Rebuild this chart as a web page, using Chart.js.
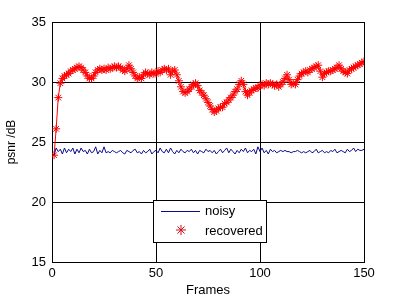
<!DOCTYPE html>
<html>
<head>
<meta charset="utf-8">
<script src="https://cdn.jsdelivr.net/npm/chart.js@4"></script>
<style>
  html, body { margin: 0; padding: 0; background: #fff; }
  #wrap { width: 401px; height: 300px; }
</style>
</head>
<body>
<div id="wrap"><canvas id="psnrChart" width="401" height="300"></canvas></div>
<script>
// Frames 1..150
const frames = Array.from({ length: 150 }, (_, i) => i + 1);

// PSNR of the noisy frames (dB)
const noisy = [
  23.9, 24.5, 24.2, 24.4, 24.0, 24.5, 24.1, 24.4, 24.2, 24.5, 24.0, 24.4, 24.1, 24.5, 24.2,
  24.3, 24.0, 24.4, 24.1, 24.2, 24.6, 24.0, 24.3, 24.1, 24.6, 24.1, 24.2, 24.1, 24.3, 24.2,
  24.1, 24.2, 24.3, 24.1, 24.0, 24.3, 24.2, 24.1, 24.3, 24.4, 24.1, 24.2, 24.0, 24.3, 24.1,
  24.2, 24.4, 24.0, 24.2, 24.3, 24.1, 24.5, 24.2, 24.1, 24.4, 24.1, 24.5, 24.2, 24.0, 24.3,
  24.1, 24.4, 24.2, 24.1, 24.3, 24.2, 24.4, 24.1, 24.3, 24.0, 24.3, 24.2, 24.1, 24.4, 24.2,
  24.3, 24.1, 24.3, 24.0, 24.2, 24.4, 24.1, 24.3, 24.5, 24.1, 24.4, 24.2, 24.0, 24.3, 24.1,
  24.4, 24.2, 24.5, 24.1, 24.3, 24.2, 24.4, 24.0, 24.6, 24.2, 24.5, 24.1, 24.3, 24.0, 24.4,
  24.2, 24.3, 24.1, 24.2, 24.3, 24.2, 24.3, 24.2, 24.2, 24.1, 24.2, 24.2, 24.3, 24.2, 24.1,
  24.2, 24.1, 24.2, 24.3, 24.1, 24.2, 24.4, 24.1, 24.2, 24.3, 24.1, 24.2, 24.1, 24.3, 24.2,
  24.4, 24.1, 24.2, 24.3, 24.2, 24.1, 24.4, 24.2, 24.3, 24.5, 24.2, 24.4, 24.3, 24.3, 24.4
];

// PSNR of the recovered frames (dB)
const recovered = [
  23.9, 26.1, 28.7, 29.9, 30.3, 30.5, 30.6, 30.7, 30.9, 31.0, 31.1, 31.2, 31.3, 31.2, 31.0,
  30.8, 30.5, 30.3, 30.3, 30.5, 30.8, 31.0, 31.1, 31.0, 31.1, 31.0, 31.2, 31.1, 31.2, 31.3,
  31.2, 31.3, 31.2, 31.0, 30.9, 31.1, 31.4, 31.1, 30.8, 30.5, 30.3, 30.4, 30.3, 30.6, 30.8,
  30.7, 30.6, 30.8, 30.7, 30.7, 30.9, 30.8, 31.0, 31.1, 31.0, 31.1, 30.6, 30.9, 31.0, 30.6,
  30.1, 29.6, 29.2, 29.1, 29.2, 29.4, 29.6, 29.8, 29.9, 29.7, 29.3, 29.1, 28.9, 28.6, 28.3,
  28.0, 27.7, 27.5, 27.6, 27.8, 27.9, 27.9, 28.2, 28.3, 28.5, 28.7, 28.9, 29.2, 29.4, 29.8,
  30.1, 29.8, 29.2, 28.9, 29.1, 29.3, 29.4, 29.5, 29.5, 29.7, 29.8, 29.7, 29.9, 29.8, 29.9,
  29.8, 29.7, 29.8, 29.6, 29.8, 30.0, 30.3, 30.6, 30.2, 29.8, 29.9, 29.8, 30.2, 30.5, 30.7,
  30.8, 30.9, 30.8, 31.0, 31.1, 31.2, 31.3, 31.4, 30.9, 30.4, 30.7, 30.8, 30.9, 30.9, 31.0,
  31.1, 31.2, 31.4, 31.1, 30.9, 30.8, 30.7, 31.0, 31.1, 31.2, 31.3, 31.4, 31.5, 31.6, 31.7
];

const xTicks = [0, 50, 100, 150];
const yTicks = [15, 20, 25, 30, 35];

const FONT = "'Liberation Sans', Arial, sans-serif";

// legend box drawn inside the plot, MATLAB style
const boxLegend = {
  id: "boxLegend",
  afterDatasetsDraw(chart) {
    const { ctx } = chart;
    const x0 = 153, y0 = 200, w = 113, h = 42;
    ctx.save();
    ctx.fillStyle = "#fff";
    ctx.fillRect(x0, y0, w, h);
    ctx.strokeStyle = "#000";
    ctx.lineWidth = 1;
    ctx.strokeRect(x0 + 0.5, y0 + 0.5, w, h);

    const ds = chart.data.datasets;
    ctx.font = "13px " + FONT;
    ctx.textBaseline = "middle";
    ctx.fillStyle = "#000";

    // noisy: line sample
    ctx.strokeStyle = ds[0].borderColor;
    ctx.beginPath();
    ctx.moveTo(161, 211.5);
    ctx.lineTo(200, 211.5);
    ctx.stroke();
    ctx.fillText(ds[0].label, 205, 211);

    // recovered: marker only
    ctx.strokeStyle = "#d0101a";
    Chart.helpers.drawPoint(ctx, { pointStyle: "star", radius: 5, borderWidth: 1 }, 181, 230);
    ctx.fillStyle = "#000";
    ctx.fillText(ds[1].label, 205, 231);
    ctx.restore();
  }
};

new Chart(document.getElementById("psnrChart").getContext("2d"), {
  type: "line",
  data: {
    datasets: [
      {
        label: "noisy",
        data: frames.map((f, i) => ({ x: f, y: noisy[i] })),
        borderColor: "#0a0a8c",
        borderWidth: 1,
        pointRadius: 0,
        tension: 0,
      },
      {
        label: "recovered",
        data: frames.map((f, i) => ({ x: f, y: recovered[i] })),
        borderColor: "#ff0000",
        backgroundColor: "#ff0000",
        borderWidth: 1,
        pointStyle: "star",
        pointRadius: 4,
        pointBorderWidth: 1,
        tension: 0,
      },
    ],
  },
  options: {
    responsive: false,
    animation: false,
    layout: { padding: { top: 22, right: 37, left: 0, bottom: 0 } },
    plugins: {
      legend: { display: false },
      tooltip: { enabled: false },
    },
    scales: {
      x: {
        type: "linear",
        min: 0,
        max: 150,
        afterBuildTicks: (s) => { s.ticks = xTicks.map((v) => ({ value: v })); },
        afterFit: (s) => { s.height = 38; },
        grid: { color: "#000", lineWidth: 1, drawTicks: false },
        border: { color: "#000", width: 1 },
        ticks: { color: "#000", font: { family: FONT, size: 13 }, padding: 4, maxRotation: 0 },
        title: { display: true, text: "Frames", color: "#000", font: { family: FONT, size: 13 }, padding: { top: 0, bottom: 2 } },
      },
      y: {
        min: 15,
        max: 35,
        afterBuildTicks: (s) => { s.ticks = yTicks.map((v) => ({ value: v })); },
        afterFit: (s) => { s.width = 52; },
        grid: { color: "#000", lineWidth: 1, drawTicks: false },
        border: { color: "#000", width: 1 },
        ticks: { color: "#000", font: { family: FONT, size: 13 }, padding: 6 },
        title: { display: true, text: "psnr /dB", color: "#000", font: { family: FONT, size: 12 }, padding: { top: 4, bottom: 0 } },
      },
    },
  },
  plugins: [boxLegend],
});
</script>
</body>
</html>
